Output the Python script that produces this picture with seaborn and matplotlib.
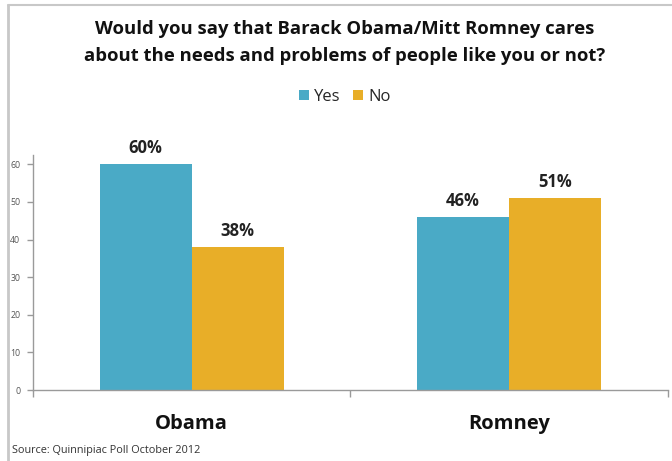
import matplotlib
matplotlib.use("Agg")
import matplotlib.pyplot as plt
from matplotlib.lines import Line2D
from matplotlib.patches import Patch
import seaborn as sns
import pandas as pd

# Quinnipiac poll, October 2012
candidates = ["Obama", "Romney"]
responses = ["Yes", "No"]
yes_values = [60, 46]
no_values = [38, 51]
y_ticks = [0, 10, 20, 30, 40, 50, 60]

colors = {"Yes": "#4aaac6", "No": "#e8ae28"}

df = pd.DataFrame({
    "candidate": candidates * 2,
    "response": ["Yes"] * len(candidates) + ["No"] * len(candidates),
    "value": yes_values + no_values,
})

sns.set_theme(style="white")
plt.rcParams["font.family"] = ["Open Sans", "DejaVu Sans"]

fig = plt.figure(figsize=(6.72, 4.61), dpi=100)
ax = fig.add_axes([0.049, 0.154, 0.945, 0.51])

sns.barplot(data=df, x="candidate", y="value", hue="response",
            hue_order=responses, order=candidates, palette=colors,
            width=0.58, saturation=1, ax=ax, legend=False, errorbar=None)

for patch in ax.patches:
    patch.set_edgecolor("none")

# value labels above each bar
for container, resp in zip(ax.containers, responses):
    labels = [f"{v:.0f}%" for v in container.datavalues]
    ax.bar_label(container, labels=labels, padding=5, fontsize=12,
                 fontweight="bold", color="#222222")

ax.set_xlim(-0.5, 1.5)
ax.set_ylim(0, 62.5)
ax.set_yticks(y_ticks)
ax.set_yticklabels([str(t) for t in y_ticks], fontsize=6.3, color="#555555")
ax.set_xlabel("")
ax.set_ylabel("")

# category ticks sit between the groups; names are drawn below
ax.set_xticks([-0.5, 0.5, 1.5])
ax.set_xticklabels([])
ax.tick_params(axis="x", direction="out", length=5, width=1, color="#9a9a9a", bottom=True)
ax.tick_params(axis="y", direction="out", length=4, width=1, color="#9a9a9a", left=True, pad=5)
for i, name in enumerate(candidates):
    ax.text(i, -9.0, name, ha="center", va="center", fontsize=14.5,
            fontweight="bold", color="#111111", transform=ax.transData)

for side in ["top", "right"]:
    ax.spines[side].set_visible(False)
for side in ["left", "bottom"]:
    ax.spines[side].set_color("#9a9a9a")
    ax.spines[side].set_linewidth(1)

fig.text(0.513, 0.938, "Would you say that Barack Obama/Mitt Romney cares",
         ha="center", va="center", fontsize=13.3, fontweight="bold", color="#111111")
fig.text(0.513, 0.879, "about the needs and problems of people like you or not?",
         ha="center", va="center", fontsize=13.3, fontweight="bold", color="#111111")

handles = [Patch(facecolor=colors[r], edgecolor="none", label=r) for r in responses]
fig.legend(handles=handles, loc="center", bbox_to_anchor=(0.513, 0.79), ncol=2,
           frameon=False, fontsize=12, handlelength=0.6, handleheight=0.6,
           handletextpad=0.3, columnspacing=0.8)

fig.text(0.018, 0.022, "Source: Quinnipiac Poll October 2012", ha="left", va="center",
         fontsize=7.8, color="#333333")

# light frame along the left and top edges
fig.add_artist(Line2D([0.012, 0.012], [0.0, 0.99], transform=fig.transFigure,
                      color="#c8c8c8", linewidth=2))
fig.add_artist(Line2D([0.012, 1.0], [0.99, 0.99], transform=fig.transFigure,
                      color="#c8c8c8", linewidth=1.5))

fig.savefig("out.png", dpi=100, facecolor="white")
